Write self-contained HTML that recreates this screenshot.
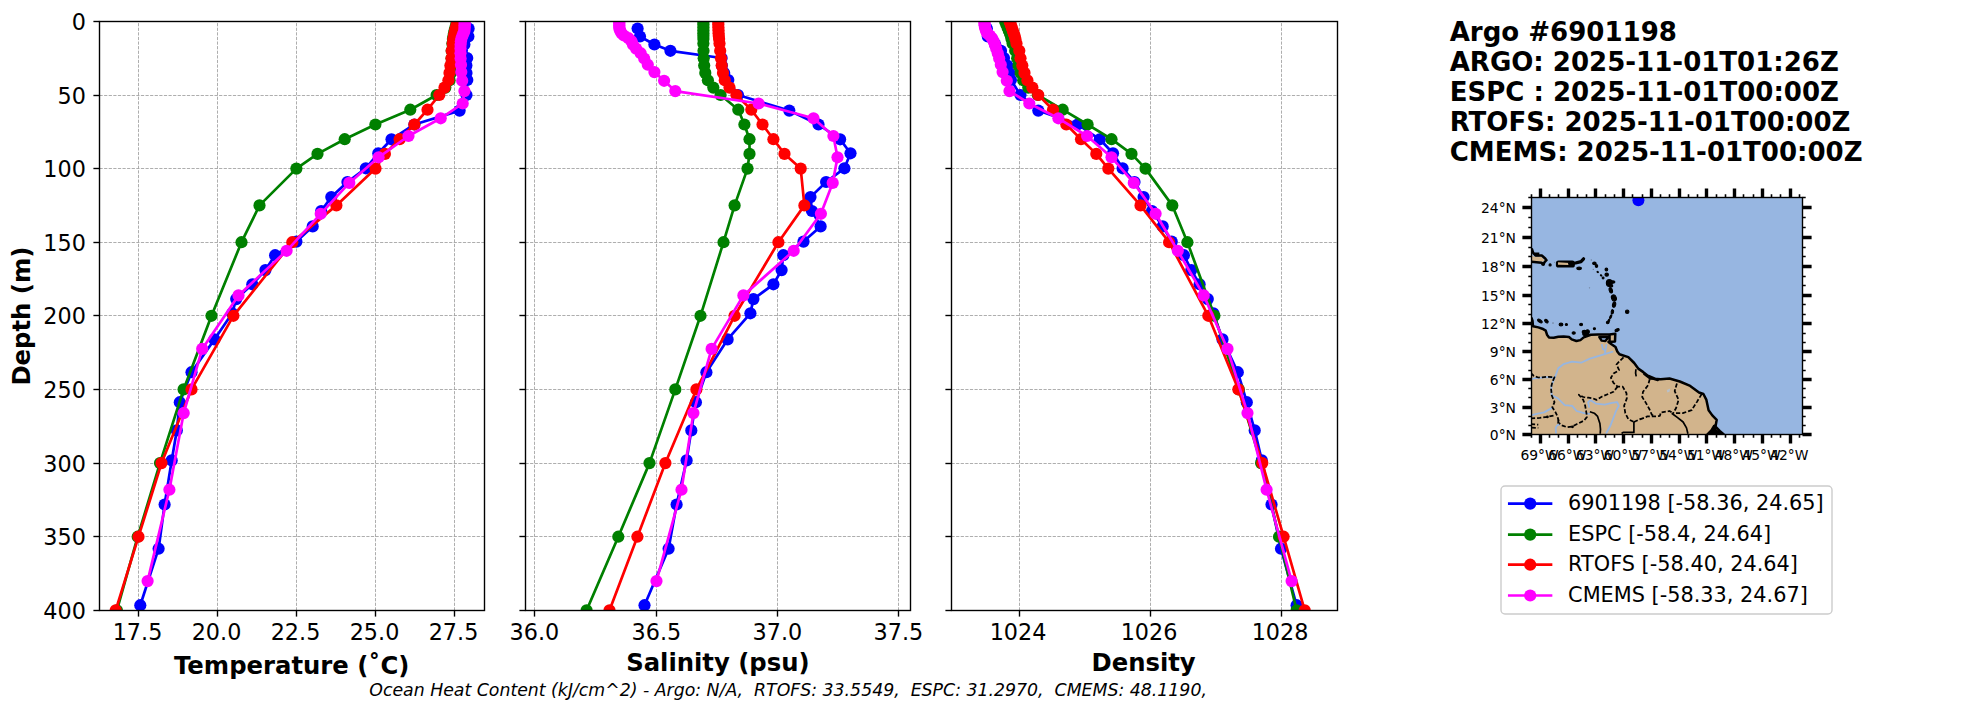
<!DOCTYPE html>
<html lang="en"><head><meta charset="utf-8"><title>Argo #6901198 profile comparison</title>
<style>html,body{margin:0;padding:0;background:#fff}svg{display:block}</style></head>
<body>
<svg width="1967" height="712" viewBox="0 0 1967 712" font-family="'DejaVu Sans','Liberation Sans',sans-serif">
<rect width="1967" height="712" fill="#fff"/>
<defs>
<clipPath id="c0"><rect x="99.5" y="21.5" width="385.00" height="589.00"/></clipPath>
<clipPath id="c1"><rect x="525.5" y="21.5" width="385.00" height="589.00"/></clipPath>
<clipPath id="c2"><rect x="951.5" y="21.5" width="386.00" height="589.00"/></clipPath>
</defs>
<g stroke="#a2a2a2" stroke-width="0.87" stroke-dasharray="3.21 1.39" fill="none"><path d="M138.50 610.5V21.5"/><path d="M217.50 610.5V21.5"/><path d="M296.50 610.5V21.5"/><path d="M375.50 610.5V21.5"/><path d="M454.50 610.5V21.5"/><path d="M99.5 21.50H484.5"/><path d="M99.5 95.50H484.5"/><path d="M99.5 168.50H484.5"/><path d="M99.5 242.50H484.5"/><path d="M99.5 315.50H484.5"/><path d="M99.5 389.50H484.5"/><path d="M99.5 463.50H484.5"/><path d="M99.5 536.50H484.5"/><path d="M99.5 610.50H484.5"/></g>
<g clip-path="url(#c0)">
<g fill="#0000ff" stroke="none"><polyline points="468.6,28.5 468.4,36.5 464.4,44.5 461.9,50.8 467.2,58.0 466.4,65.6 466.5,73.0 467.3,80.0 466.5,95.0 459.6,110.6 414.4,124.5 391.5,139.3 378.3,153.3 365.8,168.3 347.4,182.0 331.3,197.1 321.2,211.0 312.7,226.4 296.4,241.6 275.1,255.2 265.4,270.1 252.3,284.3 236.2,299.1 232.2,313.3 214.4,339.4 191.5,372.2 179.8,402.2 176.8,430.4 171.7,460.4 164.6,504.5 158.6,548.7 140.3,605.2" fill="none" stroke="#0000ff" stroke-width="2.7" stroke-linejoin="round" stroke-linecap="square"/><circle cx="468.6" cy="28.5" r="6.1"/><circle cx="468.4" cy="36.5" r="6.1"/><circle cx="464.4" cy="44.5" r="6.1"/><circle cx="461.9" cy="50.8" r="6.1"/><circle cx="467.2" cy="58.0" r="6.1"/><circle cx="466.4" cy="65.6" r="6.1"/><circle cx="466.5" cy="73.0" r="6.1"/><circle cx="467.3" cy="80.0" r="6.1"/><circle cx="466.5" cy="95.0" r="6.1"/><circle cx="459.6" cy="110.6" r="6.1"/><circle cx="414.4" cy="124.5" r="6.1"/><circle cx="391.5" cy="139.3" r="6.1"/><circle cx="378.3" cy="153.3" r="6.1"/><circle cx="365.8" cy="168.3" r="6.1"/><circle cx="347.4" cy="182.0" r="6.1"/><circle cx="331.3" cy="197.1" r="6.1"/><circle cx="321.2" cy="211.0" r="6.1"/><circle cx="312.7" cy="226.4" r="6.1"/><circle cx="296.4" cy="241.6" r="6.1"/><circle cx="275.1" cy="255.2" r="6.1"/><circle cx="265.4" cy="270.1" r="6.1"/><circle cx="252.3" cy="284.3" r="6.1"/><circle cx="236.2" cy="299.1" r="6.1"/><circle cx="232.2" cy="313.3" r="6.1"/><circle cx="214.4" cy="339.4" r="6.1"/><circle cx="191.5" cy="372.2" r="6.1"/><circle cx="179.8" cy="402.2" r="6.1"/><circle cx="176.8" cy="430.4" r="6.1"/><circle cx="171.7" cy="460.4" r="6.1"/><circle cx="164.6" cy="504.5" r="6.1"/><circle cx="158.6" cy="548.7" r="6.1"/><circle cx="140.3" cy="605.2" r="6.1"/></g>
<g fill="#008000" stroke="none"><polyline points="456.9,21.4 456.3,24.3 455.5,27.3 454.7,30.2 454.0,33.2 453.5,36.1 452.9,39.1 452.4,43.5 451.7,50.8 451.6,58.2 451.0,65.6 451.0,72.9 449.6,80.3 445.3,87.6 436.6,95.0 410.3,109.7 375.4,124.5 344.7,139.2 317.5,153.9 296.4,168.6 259.5,205.4 241.5,242.2 211.5,315.8 183.6,389.4 160.0,463.1 137.7,536.7 116.9,610.3" fill="none" stroke="#008000" stroke-width="2.7" stroke-linejoin="round" stroke-linecap="square"/><circle cx="456.9" cy="21.4" r="6.1"/><circle cx="456.3" cy="24.3" r="6.1"/><circle cx="455.5" cy="27.3" r="6.1"/><circle cx="454.7" cy="30.2" r="6.1"/><circle cx="454.0" cy="33.2" r="6.1"/><circle cx="453.5" cy="36.1" r="6.1"/><circle cx="452.9" cy="39.1" r="6.1"/><circle cx="452.4" cy="43.5" r="6.1"/><circle cx="451.7" cy="50.8" r="6.1"/><circle cx="451.6" cy="58.2" r="6.1"/><circle cx="451.0" cy="65.6" r="6.1"/><circle cx="451.0" cy="72.9" r="6.1"/><circle cx="449.6" cy="80.3" r="6.1"/><circle cx="445.3" cy="87.6" r="6.1"/><circle cx="436.6" cy="95.0" r="6.1"/><circle cx="410.3" cy="109.7" r="6.1"/><circle cx="375.4" cy="124.5" r="6.1"/><circle cx="344.7" cy="139.2" r="6.1"/><circle cx="317.5" cy="153.9" r="6.1"/><circle cx="296.4" cy="168.6" r="6.1"/><circle cx="259.5" cy="205.4" r="6.1"/><circle cx="241.5" cy="242.2" r="6.1"/><circle cx="211.5" cy="315.8" r="6.1"/><circle cx="183.6" cy="389.4" r="6.1"/><circle cx="160.0" cy="463.1" r="6.1"/><circle cx="137.7" cy="536.7" r="6.1"/><circle cx="116.9" cy="610.3" r="6.1"/></g>
<g fill="#ff0000" stroke="none"><polyline points="457.4,21.4 456.8,24.3 456.0,27.3 455.2,30.2 454.5,33.2 454.0,36.1 453.3,39.1 452.7,43.5 451.7,50.8 451.5,58.2 450.4,65.6 449.5,72.9 448.4,80.3 444.5,87.6 439.3,95.0 427.5,109.7 414.4,124.5 399.6,139.2 384.9,153.9 375.5,168.6 336.4,205.4 292.3,242.2 233.4,315.8 191.5,389.4 161.5,463.1 138.5,536.7 115.7,610.3" fill="none" stroke="#ff0000" stroke-width="2.7" stroke-linejoin="round" stroke-linecap="square"/><circle cx="457.4" cy="21.4" r="6.1"/><circle cx="456.8" cy="24.3" r="6.1"/><circle cx="456.0" cy="27.3" r="6.1"/><circle cx="455.2" cy="30.2" r="6.1"/><circle cx="454.5" cy="33.2" r="6.1"/><circle cx="454.0" cy="36.1" r="6.1"/><circle cx="453.3" cy="39.1" r="6.1"/><circle cx="452.7" cy="43.5" r="6.1"/><circle cx="451.7" cy="50.8" r="6.1"/><circle cx="451.5" cy="58.2" r="6.1"/><circle cx="450.4" cy="65.6" r="6.1"/><circle cx="449.5" cy="72.9" r="6.1"/><circle cx="448.4" cy="80.3" r="6.1"/><circle cx="444.5" cy="87.6" r="6.1"/><circle cx="439.3" cy="95.0" r="6.1"/><circle cx="427.5" cy="109.7" r="6.1"/><circle cx="414.4" cy="124.5" r="6.1"/><circle cx="399.6" cy="139.2" r="6.1"/><circle cx="384.9" cy="153.9" r="6.1"/><circle cx="375.5" cy="168.6" r="6.1"/><circle cx="336.4" cy="205.4" r="6.1"/><circle cx="292.3" cy="242.2" r="6.1"/><circle cx="233.4" cy="315.8" r="6.1"/><circle cx="191.5" cy="389.4" r="6.1"/><circle cx="161.5" cy="463.1" r="6.1"/><circle cx="138.5" cy="536.7" r="6.1"/><circle cx="115.7" cy="610.3" r="6.1"/></g>
<g fill="#ff00ff" stroke="none"><polyline points="464.7,22.1 464.7,23.7 464.6,25.3 464.6,27.0 464.5,28.9 464.4,30.9 463.6,33.1 462.5,35.5 461.5,38.2 460.9,41.2 460.6,44.7 460.5,48.6 460.5,53.2 460.6,58.5 461.0,64.7 461.3,72.1 462.2,80.8 464.4,91.1 462.7,103.5 440.7,118.3 408.5,136.0 378.6,157.3 349.3,182.9 320.7,213.8 286.6,250.8 238.5,295.4 202.2,348.9 183.7,413.1 169.4,489.7 147.6,581.1" fill="none" stroke="#ff00ff" stroke-width="2.7" stroke-linejoin="round" stroke-linecap="square"/><circle cx="464.7" cy="22.1" r="6.1"/><circle cx="464.7" cy="23.7" r="6.1"/><circle cx="464.6" cy="25.3" r="6.1"/><circle cx="464.6" cy="27.0" r="6.1"/><circle cx="464.5" cy="28.9" r="6.1"/><circle cx="464.4" cy="30.9" r="6.1"/><circle cx="463.6" cy="33.1" r="6.1"/><circle cx="462.5" cy="35.5" r="6.1"/><circle cx="461.5" cy="38.2" r="6.1"/><circle cx="460.9" cy="41.2" r="6.1"/><circle cx="460.6" cy="44.7" r="6.1"/><circle cx="460.5" cy="48.6" r="6.1"/><circle cx="460.5" cy="53.2" r="6.1"/><circle cx="460.6" cy="58.5" r="6.1"/><circle cx="461.0" cy="64.7" r="6.1"/><circle cx="461.3" cy="72.1" r="6.1"/><circle cx="462.2" cy="80.8" r="6.1"/><circle cx="464.4" cy="91.1" r="6.1"/><circle cx="462.7" cy="103.5" r="6.1"/><circle cx="440.7" cy="118.3" r="6.1"/><circle cx="408.5" cy="136.0" r="6.1"/><circle cx="378.6" cy="157.3" r="6.1"/><circle cx="349.3" cy="182.9" r="6.1"/><circle cx="320.7" cy="213.8" r="6.1"/><circle cx="286.6" cy="250.8" r="6.1"/><circle cx="238.5" cy="295.4" r="6.1"/><circle cx="202.2" cy="348.9" r="6.1"/><circle cx="183.7" cy="413.1" r="6.1"/><circle cx="169.4" cy="489.7" r="6.1"/><circle cx="147.6" cy="581.1" r="6.1"/></g>
</g>
<rect x="99.5" y="21.5" width="385.00" height="589.00" fill="none" stroke="#000" stroke-width="1.39"/>
<g stroke="#000" stroke-width="1.39"><path d="M138.50 610.5v6.1"/><path d="M217.50 610.5v6.1"/><path d="M296.50 610.5v6.1"/><path d="M375.50 610.5v6.1"/><path d="M454.50 610.5v6.1"/><path d="M99.5 21.50h-6.1"/><path d="M99.5 95.50h-6.1"/><path d="M99.5 168.50h-6.1"/><path d="M99.5 242.50h-6.1"/><path d="M99.5 315.50h-6.1"/><path d="M99.5 389.50h-6.1"/><path d="M99.5 463.50h-6.1"/><path d="M99.5 536.50h-6.1"/><path d="M99.5 610.50h-6.1"/></g>
<g font-size="22.3" fill="#000"><text x="137.50" y="639.6" text-anchor="middle">17.5</text><text x="216.50" y="639.6" text-anchor="middle">20.0</text><text x="295.50" y="639.6" text-anchor="middle">22.5</text><text x="374.50" y="639.6" text-anchor="middle">25.0</text><text x="453.50" y="639.6" text-anchor="middle">27.5</text><text x="85.9" y="29.60" text-anchor="end">0</text><text x="85.9" y="103.60" text-anchor="end">50</text><text x="85.9" y="176.60" text-anchor="end">100</text><text x="85.9" y="250.60" text-anchor="end">150</text><text x="85.9" y="323.60" text-anchor="end">200</text><text x="85.9" y="397.60" text-anchor="end">250</text><text x="85.9" y="471.60" text-anchor="end">300</text><text x="85.9" y="544.60" text-anchor="end">350</text><text x="85.9" y="618.60" text-anchor="end">400</text></g>
<text x="291.7" y="673.5" font-size="24.3" font-weight="bold" text-anchor="middle">Temperature (˚C)</text>
<g stroke="#a2a2a2" stroke-width="0.87" stroke-dasharray="3.21 1.39" fill="none"><path d="M534.50 610.5V21.5"/><path d="M656.50 610.5V21.5"/><path d="M777.50 610.5V21.5"/><path d="M898.50 610.5V21.5"/><path d="M525.5 21.50H910.5"/><path d="M525.5 95.50H910.5"/><path d="M525.5 168.50H910.5"/><path d="M525.5 242.50H910.5"/><path d="M525.5 315.50H910.5"/><path d="M525.5 389.50H910.5"/><path d="M525.5 463.50H910.5"/><path d="M525.5 536.50H910.5"/><path d="M525.5 610.50H910.5"/></g>
<g clip-path="url(#c1)">
<g fill="#0000ff" stroke="none"><polyline points="637.6,28.5 640.0,36.5 654.4,44.5 670.4,50.8 721.6,58.0 721.9,65.6 724.2,73.0 728.3,80.0 738.0,95.0 789.3,110.6 818.5,124.5 840.1,139.3 850.5,153.3 844.4,168.3 826.1,182.0 810.5,197.1 812.0,211.0 820.6,226.4 803.5,241.6 783.3,255.2 781.6,270.1 773.4,284.3 753.4,299.1 750.4,313.3 727.6,339.4 706.4,372.2 695.9,402.2 691.3,430.4 686.6,460.4 676.6,504.5 668.6,548.7 644.5,605.2" fill="none" stroke="#0000ff" stroke-width="2.7" stroke-linejoin="round" stroke-linecap="square"/><circle cx="637.6" cy="28.5" r="6.1"/><circle cx="640.0" cy="36.5" r="6.1"/><circle cx="654.4" cy="44.5" r="6.1"/><circle cx="670.4" cy="50.8" r="6.1"/><circle cx="721.6" cy="58.0" r="6.1"/><circle cx="721.9" cy="65.6" r="6.1"/><circle cx="724.2" cy="73.0" r="6.1"/><circle cx="728.3" cy="80.0" r="6.1"/><circle cx="738.0" cy="95.0" r="6.1"/><circle cx="789.3" cy="110.6" r="6.1"/><circle cx="818.5" cy="124.5" r="6.1"/><circle cx="840.1" cy="139.3" r="6.1"/><circle cx="850.5" cy="153.3" r="6.1"/><circle cx="844.4" cy="168.3" r="6.1"/><circle cx="826.1" cy="182.0" r="6.1"/><circle cx="810.5" cy="197.1" r="6.1"/><circle cx="812.0" cy="211.0" r="6.1"/><circle cx="820.6" cy="226.4" r="6.1"/><circle cx="803.5" cy="241.6" r="6.1"/><circle cx="783.3" cy="255.2" r="6.1"/><circle cx="781.6" cy="270.1" r="6.1"/><circle cx="773.4" cy="284.3" r="6.1"/><circle cx="753.4" cy="299.1" r="6.1"/><circle cx="750.4" cy="313.3" r="6.1"/><circle cx="727.6" cy="339.4" r="6.1"/><circle cx="706.4" cy="372.2" r="6.1"/><circle cx="695.9" cy="402.2" r="6.1"/><circle cx="691.3" cy="430.4" r="6.1"/><circle cx="686.6" cy="460.4" r="6.1"/><circle cx="676.6" cy="504.5" r="6.1"/><circle cx="668.6" cy="548.7" r="6.1"/><circle cx="644.5" cy="605.2" r="6.1"/></g>
<g fill="#008000" stroke="none"><polyline points="703.4,21.4 703.4,24.3 703.4,27.3 703.4,30.2 703.4,33.2 703.4,36.1 703.4,39.1 703.4,43.5 703.5,50.8 703.7,58.2 704.2,65.6 705.3,72.9 707.9,80.3 713.3,87.6 720.6,95.0 738.3,109.7 744.4,124.5 749.5,139.2 749.5,153.9 747.5,168.6 734.6,205.4 723.5,242.2 700.5,315.8 675.3,389.4 649.5,463.1 618.3,536.7 586.6,610.3" fill="none" stroke="#008000" stroke-width="2.7" stroke-linejoin="round" stroke-linecap="square"/><circle cx="703.4" cy="21.4" r="6.1"/><circle cx="703.4" cy="24.3" r="6.1"/><circle cx="703.4" cy="27.3" r="6.1"/><circle cx="703.4" cy="30.2" r="6.1"/><circle cx="703.4" cy="33.2" r="6.1"/><circle cx="703.4" cy="36.1" r="6.1"/><circle cx="703.4" cy="39.1" r="6.1"/><circle cx="703.4" cy="43.5" r="6.1"/><circle cx="703.5" cy="50.8" r="6.1"/><circle cx="703.7" cy="58.2" r="6.1"/><circle cx="704.2" cy="65.6" r="6.1"/><circle cx="705.3" cy="72.9" r="6.1"/><circle cx="707.9" cy="80.3" r="6.1"/><circle cx="713.3" cy="87.6" r="6.1"/><circle cx="720.6" cy="95.0" r="6.1"/><circle cx="738.3" cy="109.7" r="6.1"/><circle cx="744.4" cy="124.5" r="6.1"/><circle cx="749.5" cy="139.2" r="6.1"/><circle cx="749.5" cy="153.9" r="6.1"/><circle cx="747.5" cy="168.6" r="6.1"/><circle cx="734.6" cy="205.4" r="6.1"/><circle cx="723.5" cy="242.2" r="6.1"/><circle cx="700.5" cy="315.8" r="6.1"/><circle cx="675.3" cy="389.4" r="6.1"/><circle cx="649.5" cy="463.1" r="6.1"/><circle cx="618.3" cy="536.7" r="6.1"/><circle cx="586.6" cy="610.3" r="6.1"/></g>
<g fill="#ff0000" stroke="none"><polyline points="718.3,21.4 718.3,24.3 718.4,27.3 718.5,30.2 718.6,33.2 718.8,36.1 719.1,39.1 719.5,43.5 720.2,50.8 721.0,58.2 721.7,65.6 723.0,72.9 724.8,80.3 729.5,87.6 736.4,95.0 751.3,109.7 762.5,124.5 773.4,139.2 784.5,153.9 800.7,168.6 804.4,205.4 778.4,242.2 734.6,315.8 696.4,389.4 665.4,463.1 637.4,536.7 609.5,610.3" fill="none" stroke="#ff0000" stroke-width="2.7" stroke-linejoin="round" stroke-linecap="square"/><circle cx="718.3" cy="21.4" r="6.1"/><circle cx="718.3" cy="24.3" r="6.1"/><circle cx="718.4" cy="27.3" r="6.1"/><circle cx="718.5" cy="30.2" r="6.1"/><circle cx="718.6" cy="33.2" r="6.1"/><circle cx="718.8" cy="36.1" r="6.1"/><circle cx="719.1" cy="39.1" r="6.1"/><circle cx="719.5" cy="43.5" r="6.1"/><circle cx="720.2" cy="50.8" r="6.1"/><circle cx="721.0" cy="58.2" r="6.1"/><circle cx="721.7" cy="65.6" r="6.1"/><circle cx="723.0" cy="72.9" r="6.1"/><circle cx="724.8" cy="80.3" r="6.1"/><circle cx="729.5" cy="87.6" r="6.1"/><circle cx="736.4" cy="95.0" r="6.1"/><circle cx="751.3" cy="109.7" r="6.1"/><circle cx="762.5" cy="124.5" r="6.1"/><circle cx="773.4" cy="139.2" r="6.1"/><circle cx="784.5" cy="153.9" r="6.1"/><circle cx="800.7" cy="168.6" r="6.1"/><circle cx="804.4" cy="205.4" r="6.1"/><circle cx="778.4" cy="242.2" r="6.1"/><circle cx="734.6" cy="315.8" r="6.1"/><circle cx="696.4" cy="389.4" r="6.1"/><circle cx="665.4" cy="463.1" r="6.1"/><circle cx="637.4" cy="536.7" r="6.1"/><circle cx="609.5" cy="610.3" r="6.1"/></g>
<g fill="#ff00ff" stroke="none"><polyline points="619.3,22.1 619.3,23.7 619.3,25.3 619.3,27.0 619.5,28.9 620.3,30.9 621.4,33.1 623.9,35.5 628.5,38.2 631.5,41.2 633.0,44.7 636.1,48.6 640.7,53.2 644.2,58.5 647.8,64.7 654.4,72.1 664.1,80.8 675.3,91.1 758.6,103.5 813.5,118.3 833.4,136.0 837.5,157.3 832.7,182.9 820.9,213.8 793.7,250.8 743.4,295.4 711.6,348.9 693.4,413.1 681.5,489.7 656.5,581.1" fill="none" stroke="#ff00ff" stroke-width="2.7" stroke-linejoin="round" stroke-linecap="square"/><circle cx="619.3" cy="22.1" r="6.1"/><circle cx="619.3" cy="23.7" r="6.1"/><circle cx="619.3" cy="25.3" r="6.1"/><circle cx="619.3" cy="27.0" r="6.1"/><circle cx="619.5" cy="28.9" r="6.1"/><circle cx="620.3" cy="30.9" r="6.1"/><circle cx="621.4" cy="33.1" r="6.1"/><circle cx="623.9" cy="35.5" r="6.1"/><circle cx="628.5" cy="38.2" r="6.1"/><circle cx="631.5" cy="41.2" r="6.1"/><circle cx="633.0" cy="44.7" r="6.1"/><circle cx="636.1" cy="48.6" r="6.1"/><circle cx="640.7" cy="53.2" r="6.1"/><circle cx="644.2" cy="58.5" r="6.1"/><circle cx="647.8" cy="64.7" r="6.1"/><circle cx="654.4" cy="72.1" r="6.1"/><circle cx="664.1" cy="80.8" r="6.1"/><circle cx="675.3" cy="91.1" r="6.1"/><circle cx="758.6" cy="103.5" r="6.1"/><circle cx="813.5" cy="118.3" r="6.1"/><circle cx="833.4" cy="136.0" r="6.1"/><circle cx="837.5" cy="157.3" r="6.1"/><circle cx="832.7" cy="182.9" r="6.1"/><circle cx="820.9" cy="213.8" r="6.1"/><circle cx="793.7" cy="250.8" r="6.1"/><circle cx="743.4" cy="295.4" r="6.1"/><circle cx="711.6" cy="348.9" r="6.1"/><circle cx="693.4" cy="413.1" r="6.1"/><circle cx="681.5" cy="489.7" r="6.1"/><circle cx="656.5" cy="581.1" r="6.1"/></g>
</g>
<rect x="525.5" y="21.5" width="385.00" height="589.00" fill="none" stroke="#000" stroke-width="1.39"/>
<g stroke="#000" stroke-width="1.39"><path d="M534.50 610.5v6.1"/><path d="M656.50 610.5v6.1"/><path d="M777.50 610.5v6.1"/><path d="M898.50 610.5v6.1"/><path d="M525.5 21.50h-6.1"/><path d="M525.5 95.50h-6.1"/><path d="M525.5 168.50h-6.1"/><path d="M525.5 242.50h-6.1"/><path d="M525.5 315.50h-6.1"/><path d="M525.5 389.50h-6.1"/><path d="M525.5 463.50h-6.1"/><path d="M525.5 536.50h-6.1"/><path d="M525.5 610.50h-6.1"/></g>
<g font-size="22.3" fill="#000"><text x="534.40" y="639.6" text-anchor="middle">36.0</text><text x="656.40" y="639.6" text-anchor="middle">36.5</text><text x="777.40" y="639.6" text-anchor="middle">37.0</text><text x="898.40" y="639.6" text-anchor="middle">37.5</text></g>
<text x="717.9" y="670.6" font-size="24.3" font-weight="bold" text-anchor="middle">Salinity (psu)</text>
<g stroke="#a2a2a2" stroke-width="0.87" stroke-dasharray="3.21 1.39" fill="none"><path d="M1019.50 610.5V21.5"/><path d="M1150.50 610.5V21.5"/><path d="M1281.50 610.5V21.5"/><path d="M951.5 21.50H1337.5"/><path d="M951.5 95.50H1337.5"/><path d="M951.5 168.50H1337.5"/><path d="M951.5 242.50H1337.5"/><path d="M951.5 315.50H1337.5"/><path d="M951.5 389.50H1337.5"/><path d="M951.5 463.50H1337.5"/><path d="M951.5 536.50H1337.5"/><path d="M951.5 610.50H1337.5"/></g>
<g clip-path="url(#c2)">
<g fill="#0000ff" stroke="none"><polyline points="986.8,28.5 987.8,36.5 995.2,44.5 1001.0,50.8 1004.0,58.0 1007.3,65.6 1009.4,73.0 1010.9,80.0 1020.5,95.0 1038.3,110.6 1077.6,124.5 1099.8,139.3 1113.0,153.3 1122.6,168.3 1134.5,182.0 1143.6,197.1 1152.0,211.0 1162.7,226.4 1171.7,241.6 1183.9,255.2 1191.3,270.1 1199.6,284.3 1207.8,299.1 1213.4,313.3 1222.5,339.4 1237.8,372.2 1246.8,402.2 1254.7,430.4 1261.8,460.4 1271.5,504.5 1281.0,548.7 1296.6,605.2" fill="none" stroke="#0000ff" stroke-width="2.7" stroke-linejoin="round" stroke-linecap="square"/><circle cx="986.8" cy="28.5" r="6.1"/><circle cx="987.8" cy="36.5" r="6.1"/><circle cx="995.2" cy="44.5" r="6.1"/><circle cx="1001.0" cy="50.8" r="6.1"/><circle cx="1004.0" cy="58.0" r="6.1"/><circle cx="1007.3" cy="65.6" r="6.1"/><circle cx="1009.4" cy="73.0" r="6.1"/><circle cx="1010.9" cy="80.0" r="6.1"/><circle cx="1020.5" cy="95.0" r="6.1"/><circle cx="1038.3" cy="110.6" r="6.1"/><circle cx="1077.6" cy="124.5" r="6.1"/><circle cx="1099.8" cy="139.3" r="6.1"/><circle cx="1113.0" cy="153.3" r="6.1"/><circle cx="1122.6" cy="168.3" r="6.1"/><circle cx="1134.5" cy="182.0" r="6.1"/><circle cx="1143.6" cy="197.1" r="6.1"/><circle cx="1152.0" cy="211.0" r="6.1"/><circle cx="1162.7" cy="226.4" r="6.1"/><circle cx="1171.7" cy="241.6" r="6.1"/><circle cx="1183.9" cy="255.2" r="6.1"/><circle cx="1191.3" cy="270.1" r="6.1"/><circle cx="1199.6" cy="284.3" r="6.1"/><circle cx="1207.8" cy="299.1" r="6.1"/><circle cx="1213.4" cy="313.3" r="6.1"/><circle cx="1222.5" cy="339.4" r="6.1"/><circle cx="1237.8" cy="372.2" r="6.1"/><circle cx="1246.8" cy="402.2" r="6.1"/><circle cx="1254.7" cy="430.4" r="6.1"/><circle cx="1261.8" cy="460.4" r="6.1"/><circle cx="1271.5" cy="504.5" r="6.1"/><circle cx="1281.0" cy="548.7" r="6.1"/><circle cx="1296.6" cy="605.2" r="6.1"/></g>
<g fill="#008000" stroke="none"><polyline points="1005.1,21.4 1006.3,24.3 1007.5,27.3 1008.7,30.2 1009.9,33.2 1010.9,36.1 1011.5,39.1 1012.6,43.5 1015.2,50.8 1017.2,58.2 1018.5,65.6 1020.6,72.9 1023.2,80.3 1028.3,87.6 1037.8,95.0 1062.7,109.7 1087.6,124.5 1111.5,139.2 1131.5,153.9 1145.5,168.6 1172.3,205.4 1187.4,242.2 1214.4,315.8 1238.8,389.4 1261.1,463.1 1279.0,536.7 1296.6,610.3" fill="none" stroke="#008000" stroke-width="2.7" stroke-linejoin="round" stroke-linecap="square"/><circle cx="1005.1" cy="21.4" r="6.1"/><circle cx="1006.3" cy="24.3" r="6.1"/><circle cx="1007.5" cy="27.3" r="6.1"/><circle cx="1008.7" cy="30.2" r="6.1"/><circle cx="1009.9" cy="33.2" r="6.1"/><circle cx="1010.9" cy="36.1" r="6.1"/><circle cx="1011.5" cy="39.1" r="6.1"/><circle cx="1012.6" cy="43.5" r="6.1"/><circle cx="1015.2" cy="50.8" r="6.1"/><circle cx="1017.2" cy="58.2" r="6.1"/><circle cx="1018.5" cy="65.6" r="6.1"/><circle cx="1020.6" cy="72.9" r="6.1"/><circle cx="1023.2" cy="80.3" r="6.1"/><circle cx="1028.3" cy="87.6" r="6.1"/><circle cx="1037.8" cy="95.0" r="6.1"/><circle cx="1062.7" cy="109.7" r="6.1"/><circle cx="1087.6" cy="124.5" r="6.1"/><circle cx="1111.5" cy="139.2" r="6.1"/><circle cx="1131.5" cy="153.9" r="6.1"/><circle cx="1145.5" cy="168.6" r="6.1"/><circle cx="1172.3" cy="205.4" r="6.1"/><circle cx="1187.4" cy="242.2" r="6.1"/><circle cx="1214.4" cy="315.8" r="6.1"/><circle cx="1238.8" cy="389.4" r="6.1"/><circle cx="1261.1" cy="463.1" r="6.1"/><circle cx="1279.0" cy="536.7" r="6.1"/><circle cx="1296.6" cy="610.3" r="6.1"/></g>
<g fill="#ff0000" stroke="none"><polyline points="1009.6,21.4 1010.7,24.3 1011.7,27.3 1012.7,30.2 1013.7,33.2 1014.7,36.1 1015.4,39.1 1016.5,43.5 1019.3,50.8 1020.5,58.2 1022.3,65.6 1024.5,72.9 1027.4,80.3 1032.4,87.6 1038.3,95.0 1053.0,109.7 1066.3,124.5 1081.0,139.2 1096.3,153.9 1108.3,168.6 1140.5,205.4 1169.1,242.2 1208.3,315.8 1238.4,389.4 1262.3,463.1 1283.6,536.7 1304.7,610.3" fill="none" stroke="#ff0000" stroke-width="2.7" stroke-linejoin="round" stroke-linecap="square"/><circle cx="1009.6" cy="21.4" r="6.1"/><circle cx="1010.7" cy="24.3" r="6.1"/><circle cx="1011.7" cy="27.3" r="6.1"/><circle cx="1012.7" cy="30.2" r="6.1"/><circle cx="1013.7" cy="33.2" r="6.1"/><circle cx="1014.7" cy="36.1" r="6.1"/><circle cx="1015.4" cy="39.1" r="6.1"/><circle cx="1016.5" cy="43.5" r="6.1"/><circle cx="1019.3" cy="50.8" r="6.1"/><circle cx="1020.5" cy="58.2" r="6.1"/><circle cx="1022.3" cy="65.6" r="6.1"/><circle cx="1024.5" cy="72.9" r="6.1"/><circle cx="1027.4" cy="80.3" r="6.1"/><circle cx="1032.4" cy="87.6" r="6.1"/><circle cx="1038.3" cy="95.0" r="6.1"/><circle cx="1053.0" cy="109.7" r="6.1"/><circle cx="1066.3" cy="124.5" r="6.1"/><circle cx="1081.0" cy="139.2" r="6.1"/><circle cx="1096.3" cy="153.9" r="6.1"/><circle cx="1108.3" cy="168.6" r="6.1"/><circle cx="1140.5" cy="205.4" r="6.1"/><circle cx="1169.1" cy="242.2" r="6.1"/><circle cx="1208.3" cy="315.8" r="6.1"/><circle cx="1238.4" cy="389.4" r="6.1"/><circle cx="1262.3" cy="463.1" r="6.1"/><circle cx="1283.6" cy="536.7" r="6.1"/><circle cx="1304.7" cy="610.3" r="6.1"/></g>
<g fill="#ff00ff" stroke="none"><polyline points="984.5,22.1 984.5,23.7 984.7,25.3 984.9,27.0 985.5,28.9 986.1,30.9 987.0,33.1 989.8,35.5 992.1,38.2 993.7,41.2 994.9,44.7 996.2,48.6 997.8,53.2 999.2,58.5 1000.8,64.7 1002.6,72.1 1006.8,80.8 1009.5,91.1 1029.3,103.5 1058.4,118.3 1087.1,136.0 1111.5,157.3 1133.8,182.9 1155.6,213.8 1177.8,250.8 1203.7,295.4 1227.5,348.9 1247.5,413.1 1266.6,489.7 1291.6,581.1" fill="none" stroke="#ff00ff" stroke-width="2.7" stroke-linejoin="round" stroke-linecap="square"/><circle cx="984.5" cy="22.1" r="6.1"/><circle cx="984.5" cy="23.7" r="6.1"/><circle cx="984.7" cy="25.3" r="6.1"/><circle cx="984.9" cy="27.0" r="6.1"/><circle cx="985.5" cy="28.9" r="6.1"/><circle cx="986.1" cy="30.9" r="6.1"/><circle cx="987.0" cy="33.1" r="6.1"/><circle cx="989.8" cy="35.5" r="6.1"/><circle cx="992.1" cy="38.2" r="6.1"/><circle cx="993.7" cy="41.2" r="6.1"/><circle cx="994.9" cy="44.7" r="6.1"/><circle cx="996.2" cy="48.6" r="6.1"/><circle cx="997.8" cy="53.2" r="6.1"/><circle cx="999.2" cy="58.5" r="6.1"/><circle cx="1000.8" cy="64.7" r="6.1"/><circle cx="1002.6" cy="72.1" r="6.1"/><circle cx="1006.8" cy="80.8" r="6.1"/><circle cx="1009.5" cy="91.1" r="6.1"/><circle cx="1029.3" cy="103.5" r="6.1"/><circle cx="1058.4" cy="118.3" r="6.1"/><circle cx="1087.1" cy="136.0" r="6.1"/><circle cx="1111.5" cy="157.3" r="6.1"/><circle cx="1133.8" cy="182.9" r="6.1"/><circle cx="1155.6" cy="213.8" r="6.1"/><circle cx="1177.8" cy="250.8" r="6.1"/><circle cx="1203.7" cy="295.4" r="6.1"/><circle cx="1227.5" cy="348.9" r="6.1"/><circle cx="1247.5" cy="413.1" r="6.1"/><circle cx="1266.6" cy="489.7" r="6.1"/><circle cx="1291.6" cy="581.1" r="6.1"/></g>
</g>
<rect x="951.5" y="21.5" width="386.00" height="589.00" fill="none" stroke="#000" stroke-width="1.39"/>
<g stroke="#000" stroke-width="1.39"><path d="M1019.50 610.5v6.1"/><path d="M1150.50 610.5v6.1"/><path d="M1281.50 610.5v6.1"/><path d="M951.5 21.50h-6.1"/><path d="M951.5 95.50h-6.1"/><path d="M951.5 168.50h-6.1"/><path d="M951.5 242.50h-6.1"/><path d="M951.5 315.50h-6.1"/><path d="M951.5 389.50h-6.1"/><path d="M951.5 463.50h-6.1"/><path d="M951.5 536.50h-6.1"/><path d="M951.5 610.50h-6.1"/></g>
<g font-size="22.3" fill="#000"><text x="1018.00" y="639.6" text-anchor="middle">1024</text><text x="1149.00" y="639.6" text-anchor="middle">1026</text><text x="1280.00" y="639.6" text-anchor="middle">1028</text></g>
<text x="1143.6" y="670.6" font-size="24.3" font-weight="bold" text-anchor="middle">Density</text>
<text transform="translate(29.6 316.1) rotate(-90)" font-size="24.3" font-weight="bold" text-anchor="middle">Depth (m)</text>
<text x="369.3" y="696" font-size="17.32" font-style="italic" xml:space="preserve" style="white-space:pre">Ocean Heat Content (kJ/cm^2) - Argo: N/A,  RTOFS: 33.5549,  ESPC: 31.2970,  CMEMS: 48.1190, </text>
<g font-size="26.04" font-weight="bold">
<text x="1449.7" y="41.10">Argo #6901198</text>
<text x="1449.7" y="71.05">ARGO: 2025-11-01T01:26Z</text>
<text x="1449.7" y="101.00">ESPC : 2025-11-01T00:00Z</text>
<text x="1449.7" y="130.95">RTOFS: 2025-11-01T00:00Z</text>
<text x="1449.7" y="160.90">CMEMS: 2025-11-01T00:00Z</text>
</g>
<clipPath id="cm"><rect x="1531.5" y="197.5" width="271.0" height="237.0"/></clipPath>
<rect x="1531.5" y="197.5" width="271.0" height="237.0" fill="#97b6e1"/>
<g clip-path="url(#cm)">
<path d="M1530.3 317.4 L1531.7 318.3 L1532.5 320.7 L1533.0 326.3 L1538.3 327.4 L1542.3 328.7 L1545.7 330.7 L1547.0 334.7 L1549.0 337.4 L1553.7 337.8 L1558.4 336.7 L1563.7 336.5 L1569.0 337.0 L1571.7 339.4 L1576.4 341.0 L1580.4 340.1 L1583.7 337.4 L1585.8 336.6 L1590.8 334.8 L1598.0 334.4 L1609.2 334.4 L1615.3 333.7 L1615.0 341.4 L1608.5 341.9 L1611.5 344.3 L1615.5 347.0 L1617.3 351.5 L1619.4 354.2 L1628.3 357.1 L1634.2 363.0 L1638.6 368.9 L1643.0 371.9 L1650.4 377.8 L1657.8 380.0 L1644.4 374.1 L1650.3 378.5 L1660.7 379.3 L1669.5 378.5 L1679.8 381.5 L1690.2 385.9 L1699.0 392.5 L1703.4 394.0 L1706.4 399.9 L1708.6 410.2 L1712.3 415.4 L1716.7 419.8 L1715.5 426.5 L1719.7 430.9 L1724.1 434.6 L1723.8 440.0 L1525.0 440.0Z" fill="#d2b48c" stroke="none"/>
<path d="M1613.2 351.5 L1604.7 354.2 L1589.9 358.6 L1581.1 362.7 L1572.2 361.6 L1563.4 364.2 L1558.2 368.2 L1556.3 373.6 L1554.5 378.1 L1551.3 385.9 L1551.6 395.2 L1557.5 398.1 L1564.8 405.1 L1572.2 405.8 L1576.6 411.0 L1584.0 413.2 L1589.9 413.9" fill="none" stroke="#97b6e1" stroke-width="1.8" stroke-linejoin="round"/>
<path d="M1601.7 344.1 L1602.9 349.0 L1605.4 350.5 L1606.1 346.8 L1606.4 344.1" fill="none" stroke="#97b6e1" stroke-width="1.8" stroke-linejoin="round"/>
<path d="M1605.4 350.5 L1604.7 354.2" fill="none" stroke="#97b6e1" stroke-width="1.8" stroke-linejoin="round"/>
<path d="M1530.6 379.5 L1535.3 378.1 L1539.8 377.8 L1547.1 377.2 L1554.5 378.1" fill="none" stroke="#97b6e1" stroke-width="1.8" stroke-linejoin="round"/>
<path d="M1530.6 415.4 L1536.8 413.9 L1544.2 412.4 L1548.6 409.9 L1552.7 407.6" fill="none" stroke="#97b6e1" stroke-width="1.8" stroke-linejoin="round"/>
<path d="M1589.2 407.6 L1588.1 402.1 L1590.6 400.2 L1595.8 403.6 L1604.7 404.6 L1612.0 402.9 L1617.2 402.1 L1618.8 405.8 L1615.7 411.7 L1613.5 417.6 L1610.6 425.3 L1606.1 433.5" fill="none" stroke="#97b6e1" stroke-width="1.8" stroke-linejoin="round"/>
<path d="M1556.0 433.5 L1555.7 427.9 L1557.2 425.3 L1560.1 424.2" fill="none" stroke="#97b6e1" stroke-width="1.8" stroke-linejoin="round"/>
<path d="M1623.5 357.4 L1619.4 361.3 L1616.5 364.5 L1619.1 370.1 L1613.5 373.6 L1610.9 377.8 L1613.5 382.9 L1617.6 386.6 L1622.7 386.6 L1626.5 393.3 L1626.8 398.4 L1624.1 405.8 L1625.3 413.2 L1628.3 419.1 L1633.9 422.0" fill="none" stroke="#000" stroke-width="1.75" stroke-dasharray="4.2 2.0" stroke-linejoin="round"/>
<path d="M1617.6 386.6 L1613.5 391.8 L1607.6 394.3 L1601.7 396.7 L1596.5 399.9 L1592.9 398.4 L1588.4 397.7 L1583.3 397.0 L1578.8 394.7 L1583.3 399.9 L1585.2 405.8 L1586.2 411.7 L1587.0 416.9 L1584.0 420.6 L1576.6 424.2 L1572.2 426.5 L1567.0 427.2 L1562.6 425.7 L1559.2 423.2" fill="none" stroke="#000" stroke-width="1.75" stroke-dasharray="4.2 2.0" stroke-linejoin="round"/>
<path d="M1530.9 373.1 L1533.9 376.0 L1538.3 377.5 L1547.1 376.9 L1554.5 377.2 L1552.3 382.2 L1551.0 388.1 L1551.8 395.5 L1554.5 402.1 L1552.3 407.3 L1555.2 411.7 L1557.2 415.8 L1558.6 420.6 L1559.2 423.2" fill="none" stroke="#000" stroke-width="1.75" stroke-dasharray="4.2 2.0" stroke-linejoin="round"/>
<path d="M1530.9 418.3 L1539.8 417.9 L1547.1 416.9 L1554.5 415.4" fill="none" stroke="#000" stroke-width="1.75" stroke-dasharray="4.2 2.0" stroke-linejoin="round"/>
<path d="M1530.9 424.2 L1538.3 424.7" fill="none" stroke="#000" stroke-width="1.75" stroke-dasharray="4.2 2.0" stroke-linejoin="round"/>
<path d="M1531.6 427.6 L1538.3 427.9" fill="none" stroke="#000" stroke-width="1.75" stroke-dasharray="4.2 2.0" stroke-linejoin="round"/>
<path d="M1649.7 379.3 L1648.1 385.2 L1643.0 391.8 L1642.2 397.0 L1645.9 402.9 L1649.6 409.5 L1651.8 414.7 L1654.8 416.4" fill="none" stroke="#000" stroke-width="1.75" stroke-dasharray="4.2 2.0" stroke-linejoin="round"/>
<path d="M1640.0 419.4 L1647.4 416.4 L1654.8 416.4 L1659.9 415.8 L1660.9 412.4 L1669.5 411.0 L1673.2 413.2" fill="none" stroke="#000" stroke-width="1.75" stroke-dasharray="4.2 2.0" stroke-linejoin="round"/>
<path d="M1676.9 383.4 L1674.7 391.1 L1678.6 399.9 L1676.1 408.0 L1673.2 413.2" fill="none" stroke="#000" stroke-width="1.75" stroke-dasharray="4.2 2.0" stroke-linejoin="round"/>
<path d="M1701.7 394.0 L1696.8 402.1 L1691.6 410.2 L1682.8 413.2 L1673.2 413.2" fill="none" stroke="#000" stroke-width="1.75" stroke-dasharray="4.2 2.0" stroke-linejoin="round"/>
<path d="M1633.9 422.0 L1637.8 420.3 L1640.8 418.8" fill="none" stroke="#000" stroke-width="1.75" stroke-dasharray="4.2 2.0" stroke-linejoin="round"/>
<path d="M1589.9 411.7 L1594.3 413.2 L1597.6 416.4 L1599.9 423.5 L1600.5 429.4 L1600.2 433.8" fill="none" stroke="#000" stroke-width="1.7" stroke-linejoin="round"/>
<path d="M1633.9 422.0 L1633.9 432.4 L1623.1 432.4 L1621.6 433.5" fill="none" stroke="#000" stroke-width="1.7" stroke-linejoin="round"/>
<path d="M1671.7 413.2 L1677.6 417.6 L1683.1 422.0 L1686.5 427.9 L1687.9 433.8" fill="none" stroke="#000" stroke-width="1.7" stroke-linejoin="round"/>
<path d="M1635.9 369.2 L1635.6 373.1 L1636.2 376.3" fill="none" stroke="#000" stroke-width="1.7" stroke-linejoin="round"/>
<path d="M1557.7 418.8 L1560.1 423.5 L1557.2 423.5Z" fill="#000"/>
<circle cx="1547.4" cy="416.9" r="1.4" fill="#000"/>
<circle cx="1572.5" cy="426.8" r="1.4" fill="#000"/>
<path d="M1666.8 389.9 L1670.2 388.4 L1669.5 391.8 L1667.3 392.5Z" fill="#b9c0c9"/>
<path d="M1530.3 317.4 L1531.7 318.3 L1532.5 320.7 L1533.0 326.3 L1538.3 327.4 L1542.3 328.7 L1545.7 330.7 L1547.0 334.7 L1549.0 337.4 L1553.7 337.8 L1558.4 336.7 L1563.7 336.5 L1569.0 337.0 L1571.7 339.4 L1576.4 341.0 L1580.4 340.1 L1583.7 337.4 L1585.8 336.6 L1590.8 334.8 L1598.0 334.4 L1609.2 334.4 L1615.3 333.7 L1615.0 341.4 L1608.5 341.9 L1611.5 344.3 L1615.5 347.0 L1617.3 351.5 L1619.4 354.2 L1628.3 357.1 L1634.2 363.0 L1638.6 368.9 L1643.0 371.9 L1650.4 377.8 L1657.8 380.0 L1644.4 374.1 L1650.3 378.5 L1660.7 379.3 L1669.5 378.5 L1679.8 381.5 L1690.2 385.9 L1699.0 392.5 L1703.4 394.0 L1706.4 399.9 L1708.6 410.2 L1712.3 415.4 L1716.7 419.8 L1715.5 426.5 L1719.7 430.9 L1724.1 434.6" fill="none" stroke="#000" stroke-width="2.5" stroke-linejoin="round"/>
<path d="M1599.3 337.0L1608.6 337.0L1605.4 341.0L1601.6 340.6Z" fill="#97b6e1" stroke="#000" stroke-width="2.4" stroke-linejoin="round"/>
<path d="M1609.6 334.2V341.6" stroke="#000" stroke-width="2.4" fill="none"/>
<path d="M1706.1 434.1 L1710.5 429.4 L1713.2 425.0 L1716.1 423.8 L1716.7 429.4 L1719.7 431.6 L1723.5 434.7Z" fill="#000"/>
<path d="M1530 253.0L1533.4 256.4L1541.4 256.8L1544.8 260.6L1542.7 261.8L1530 261.2Z" fill="#d2b48c"/>
<path d="M1531.7 248.4L1533.4 253.4L1536 255.6L1541.8 255.5L1545.2 258.5L1546.5 260.2L1544.8 261.8L1543.3 264.4L1541.4 262.7L1531.7 261.8" fill="none" stroke="#000" stroke-width="2.5" stroke-linejoin="round"/>
<path d="M1533.8 252.6H1539.3V256.2H1534.5Z" fill="#000"/><circle cx="1543.1" cy="263.9" r="1.9" fill="#000"/>
<rect x="1555.9" y="260.4" width="19" height="7.1" rx="2.6" fill="#000"/><path d="M1558 262.3L1569.6 263.0L1568.6 264.9L1558 264.8Z" fill="#d2b48c"/>
<path d="M1569.6 263.6L1575.5 263.0L1581 261.6L1583.6 258.8" fill="none" stroke="#000" stroke-width="3.2" stroke-linecap="round" stroke-linejoin="round"/>
<g fill="#000" stroke="#000" stroke-width="1.1"><ellipse cx="1550.1" cy="264.9" rx="1.07" ry="1.07" transform="rotate(0 1550.1 264.9)"/><ellipse cx="1579.1" cy="268.3" rx="2.27" ry="1.33" transform="rotate(0 1579.1 268.3)"/><ellipse cx="1594.4" cy="263.3" rx="1.73" ry="1.33" transform="rotate(0 1594.4 263.3)"/><ellipse cx="1596.5" cy="266.0" rx="1.20" ry="1.33" transform="rotate(0 1596.5 266.0)"/><ellipse cx="1606.4" cy="269.6" rx="1.33" ry="1.47" transform="rotate(0 1606.4 269.6)"/><ellipse cx="1606.7" cy="274.7" rx="1.73" ry="1.60" transform="rotate(0 1606.7 274.7)"/><ellipse cx="1597.7" cy="272.0" rx="0.80" ry="0.53" transform="rotate(40 1597.7 272.0)"/><ellipse cx="1601.1" cy="275.4" rx="0.80" ry="0.53" transform="rotate(40 1601.1 275.4)"/><ellipse cx="1603.1" cy="278.0" rx="0.93" ry="0.93" transform="rotate(0 1603.1 278.0)"/><ellipse cx="1609.3" cy="283.1" rx="2.94" ry="3.47" transform="rotate(0 1609.3 283.1)"/><ellipse cx="1612.8" cy="282.0" rx="2.14" ry="1.20" transform="rotate(0 1612.8 282.0)"/><ellipse cx="1611.7" cy="286.0" rx="1.07" ry="0.93" transform="rotate(0 1611.7 286.0)"/><ellipse cx="1610.8" cy="290.3" rx="1.60" ry="2.80" transform="rotate(-15 1610.8 290.3)"/><ellipse cx="1613.9" cy="298.0" rx="2.40" ry="3.07" transform="rotate(-20 1613.9 298.0)"/><ellipse cx="1614.1" cy="304.7" rx="1.60" ry="2.67" transform="rotate(10 1614.1 304.7)"/><ellipse cx="1612.4" cy="311.8" rx="1.20" ry="2.14" transform="rotate(10 1612.4 311.8)"/><ellipse cx="1610.7" cy="316.7" rx="0.80" ry="2.00" transform="rotate(25 1610.7 316.7)"/><ellipse cx="1608.8" cy="320.7" rx="0.80" ry="1.73" transform="rotate(25 1608.8 320.7)"/><ellipse cx="1607.7" cy="322.5" rx="1.33" ry="1.20" transform="rotate(0 1607.7 322.5)"/><ellipse cx="1627.2" cy="311.8" rx="1.73" ry="1.73" transform="rotate(0 1627.2 311.8)"/><ellipse cx="1617.1" cy="330.1" rx="2.27" ry="1.33" transform="rotate(-25 1617.1 330.1)"/><ellipse cx="1539.9" cy="321.0" rx="1.20" ry="2.67" transform="rotate(-55 1539.9 321.0)"/><ellipse cx="1546.4" cy="321.1" rx="1.33" ry="2.14" transform="rotate(-45 1546.4 321.1)"/><ellipse cx="1561.0" cy="324.5" rx="1.87" ry="1.47" transform="rotate(0 1561.0 324.5)"/><ellipse cx="1566.4" cy="324.5" rx="1.07" ry="1.07" transform="rotate(0 1566.4 324.5)"/><ellipse cx="1581.1" cy="324.5" rx="1.47" ry="1.20" transform="rotate(0 1581.1 324.5)"/><ellipse cx="1573.7" cy="333.0" rx="1.60" ry="1.20" transform="rotate(0 1573.7 333.0)"/><ellipse cx="1594.4" cy="328.7" rx="1.07" ry="0.93" transform="rotate(0 1594.4 328.7)"/><ellipse cx="1584.4" cy="332.1" rx="2.14" ry="1.73" transform="rotate(0 1584.4 332.1)"/><ellipse cx="1587.5" cy="331.7" rx="1.87" ry="2.00" transform="rotate(0 1587.5 331.7)"/><ellipse cx="1585.7" cy="334.3" rx="2.94" ry="1.33" transform="rotate(0 1585.7 334.3)"/></g>
<g fill="#6f7f99"><circle cx="1553.0" cy="323.1" r="0.80"/><circle cx="1591.3" cy="260.0" r="0.67"/><circle cx="1589.5" cy="287.8" r="0.67"/><circle cx="1593.3" cy="269.4" r="0.67"/><circle cx="1554.6" cy="262.3" r="0.53"/></g>
<circle cx="1638.4" cy="200.3" r="6.0" fill="#0000ff"/>
</g>
<rect x="1531.5" y="197.5" width="271.0" height="237.0" fill="none" stroke="#000" stroke-width="1.39"/>
<path d="M1540.50 434.5v9.1M1540.50 197.5v-9.1M1568.50 434.5v9.1M1568.50 197.5v-9.1M1595.50 434.5v9.1M1595.50 197.5v-9.1M1623.50 434.5v9.1M1623.50 197.5v-9.1M1651.50 434.5v9.1M1651.50 197.5v-9.1M1679.50 434.5v9.1M1679.50 197.5v-9.1M1706.50 434.5v9.1M1706.50 197.5v-9.1M1734.50 434.5v9.1M1734.50 197.5v-9.1M1762.50 434.5v9.1M1762.50 197.5v-9.1M1790.50 434.5v9.1M1790.50 197.5v-9.1M1531.5 434.50h-9.1M1802.5 434.50h9.1M1531.5 407.50h-9.1M1802.5 407.50h9.1M1531.5 379.50h-9.1M1802.5 379.50h9.1M1531.5 351.50h-9.1M1802.5 351.50h9.1M1531.5 323.50h-9.1M1802.5 323.50h9.1M1531.5 295.50h-9.1M1802.5 295.50h9.1M1531.5 266.50h-9.1M1802.5 266.50h9.1M1531.5 237.50h-9.1M1802.5 237.50h9.1M1531.5 207.50h-9.1M1802.5 207.50h9.1" stroke="#000" stroke-width="3.4" fill="none"/>
<path d="M1531.50 434.5v3.2M1531.50 197.5v-3.2M1549.50 434.5v3.2M1549.50 197.5v-3.2M1558.50 434.5v3.2M1558.50 197.5v-3.2M1577.50 434.5v3.2M1577.50 197.5v-3.2M1586.50 434.5v3.2M1586.50 197.5v-3.2M1605.50 434.5v3.2M1605.50 197.5v-3.2M1614.50 434.5v3.2M1614.50 197.5v-3.2M1632.50 434.5v3.2M1632.50 197.5v-3.2M1642.50 434.5v3.2M1642.50 197.5v-3.2M1660.50 434.5v3.2M1660.50 197.5v-3.2M1669.50 434.5v3.2M1669.50 197.5v-3.2M1688.50 434.5v3.2M1688.50 197.5v-3.2M1697.50 434.5v3.2M1697.50 197.5v-3.2M1716.50 434.5v3.2M1716.50 197.5v-3.2M1725.50 434.5v3.2M1725.50 197.5v-3.2M1743.50 434.5v3.2M1743.50 197.5v-3.2M1753.50 434.5v3.2M1753.50 197.5v-3.2M1771.50 434.5v3.2M1771.50 197.5v-3.2M1780.50 434.5v3.2M1780.50 197.5v-3.2M1799.50 434.5v3.2M1799.50 197.5v-3.2M1531.5 425.50h-3.2M1802.5 425.50h3.2M1531.5 416.50h-3.2M1802.5 416.50h3.2M1531.5 397.50h-3.2M1802.5 397.50h3.2M1531.5 388.50h-3.2M1802.5 388.50h3.2M1531.5 370.50h-3.2M1802.5 370.50h3.2M1531.5 360.50h-3.2M1802.5 360.50h3.2M1531.5 342.50h-3.2M1802.5 342.50h3.2M1531.5 333.50h-3.2M1802.5 333.50h3.2M1531.5 314.50h-3.2M1802.5 314.50h3.2M1531.5 304.50h-3.2M1802.5 304.50h3.2M1531.5 285.50h-3.2M1802.5 285.50h3.2M1531.5 276.50h-3.2M1802.5 276.50h3.2M1531.5 256.50h-3.2M1802.5 256.50h3.2M1531.5 247.50h-3.2M1802.5 247.50h3.2M1531.5 227.50h-3.2M1802.5 227.50h3.2M1531.5 217.50h-3.2M1802.5 217.50h3.2M1531.5 197.50h-3.2M1802.5 197.50h3.2" stroke="#000" stroke-width="1.6" fill="none"/>
<g font-size="13.89" fill="#000"><text x="1539.55" y="459.7" text-anchor="middle">69°W</text><text x="1567.30" y="459.7" text-anchor="middle">66°W</text><text x="1595.05" y="459.7" text-anchor="middle">63°W</text><text x="1622.80" y="459.7" text-anchor="middle">60°W</text><text x="1650.55" y="459.7" text-anchor="middle">57°W</text><text x="1678.30" y="459.7" text-anchor="middle">54°W</text><text x="1706.05" y="459.7" text-anchor="middle">51°W</text><text x="1733.80" y="459.7" text-anchor="middle">48°W</text><text x="1761.55" y="459.7" text-anchor="middle">45°W</text><text x="1789.30" y="459.7" text-anchor="middle">42°W</text><text x="1516.0" y="439.80" text-anchor="end">0°N</text><text x="1516.0" y="412.80" text-anchor="end">3°N</text><text x="1516.0" y="384.80" text-anchor="end">6°N</text><text x="1516.0" y="356.80" text-anchor="end">9°N</text><text x="1516.0" y="328.80" text-anchor="end">12°N</text><text x="1516.0" y="300.80" text-anchor="end">15°N</text><text x="1516.0" y="271.80" text-anchor="end">18°N</text><text x="1516.0" y="242.80" text-anchor="end">21°N</text><text x="1516.0" y="212.80" text-anchor="end">24°N</text></g>
<rect x="1501" y="486" width="331" height="128" rx="4" ry="4" fill="#fff" fill-opacity="0.8" stroke="#ccc" stroke-width="1.4"/>
<path d="M1509.3 503.6H1551" stroke="#0000ff" stroke-width="2.7" stroke-linecap="square" fill="none"/><circle cx="1530.2" cy="503.6" r="6.1" fill="#0000ff"/>
<text x="1568.1" y="510.4" font-size="20.83">6901198 [-58.36, 24.65]</text>
<path d="M1509.3 534.6H1551" stroke="#008000" stroke-width="2.7" stroke-linecap="square" fill="none"/><circle cx="1530.2" cy="534.6" r="6.1" fill="#008000"/>
<text x="1568.1" y="541.0" font-size="20.83">ESPC [-58.4, 24.64]</text>
<path d="M1509.3 564.7H1551" stroke="#ff0000" stroke-width="2.7" stroke-linecap="square" fill="none"/><circle cx="1530.2" cy="564.7" r="6.1" fill="#ff0000"/>
<text x="1568.1" y="571.3" font-size="20.83">RTOFS [-58.40, 24.64]</text>
<path d="M1509.3 595.5H1551" stroke="#ff00ff" stroke-width="2.7" stroke-linecap="square" fill="none"/><circle cx="1530.2" cy="595.5" r="6.1" fill="#ff00ff"/>
<text x="1568.1" y="602.15" font-size="20.83">CMEMS [-58.33, 24.67]</text>
</svg>
</body></html>
